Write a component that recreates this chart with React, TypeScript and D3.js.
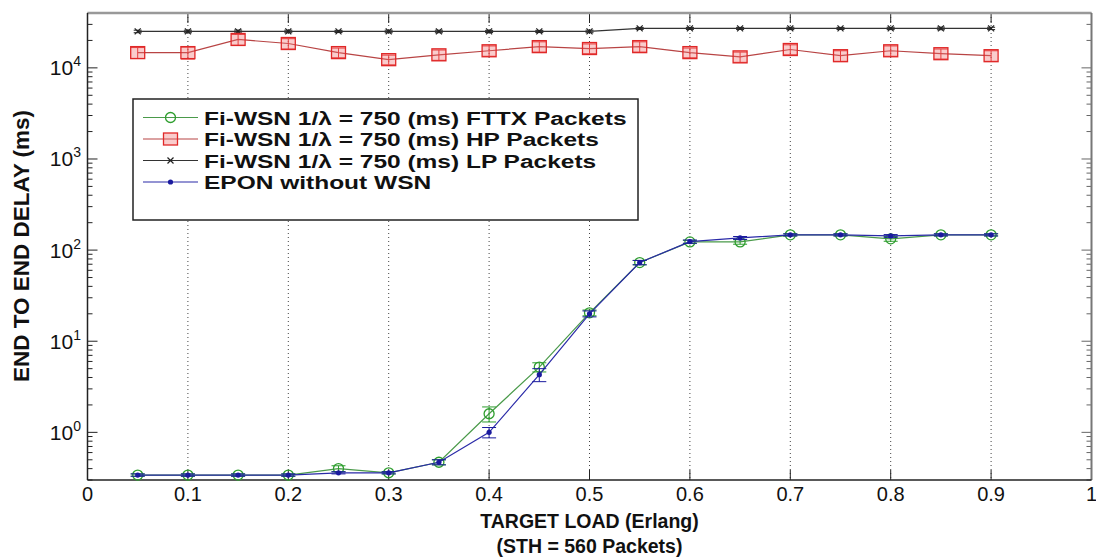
import React, { useEffect, useRef } from 'react';
import * as d3 from 'd3';

// target load (Erlang)
const loads = [0.05, 0.1, 0.15, 0.2, 0.25, 0.3, 0.35, 0.4, 0.45, 0.5, 0.55, 0.6, 0.65, 0.7, 0.75, 0.8, 0.85, 0.9];

// end to end delay (ms)
const fttxDelay = [0.34, 0.34, 0.34, 0.34, 0.4, 0.36, 0.47, 1.6, 5.2, 20.5, 73, 123, 123, 147, 147, 133, 147, 147];
const fttxErr = [0.01, 0.01, 0.01, 0.01, 0.03, 0.01, 0.03, 0.3, 0.6, 1.5, 4, 5, 7, 4, 4, 8, 4, 4];
const hpDelay = [14700, 14700, 20500, 18500, 14700, 12300, 13900, 15400, 17100, 16300, 17100, 14700, 13200, 15900, 13600, 15400, 14300, 13600];
const hpErr = [2000, 2200, 2800, 2400, 1800, 1500, 1800, 2000, 2200, 2000, 2200, 1800, 1700, 2000, 1800, 2000, 1800, 1800];
const lpDelay = [25100, 25100, 25100, 25100, 25100, 25100, 25100, 25100, 25100, 25100, 27100, 27100, 27100, 27100, 27100, 27100, 27100, 27100];
const lpErr = [800, 800, 900, 800, 700, 800, 800, 700, 700, 800, 700, 700, 700, 800, 700, 800, 900, 800];
const eponDelay = [0.34, 0.34, 0.34, 0.34, 0.36, 0.36, 0.47, 1.0, 4.3, 20, 73, 124, 136, 147, 147, 143, 147, 147];
const eponErr = [0.01, 0.01, 0.01, 0.01, 0.01, 0.01, 0.03, 0.13, 0.7, 1.5, 4, 5, 5, 4, 4, 5, 4, 4];

const legendLabels = [
  'Fi-WSN 1/\u03bb = 750 (ms) FTTX Packets',
  'Fi-WSN 1/\u03bb = 750 (ms) HP Packets',
  'Fi-WSN 1/\u03bb = 750 (ms) LP Packets',
  'EPON without WSN',
];

const xTicks = [0, 0.1, 0.2, 0.3, 0.4, 0.5, 0.6, 0.7, 0.8, 0.9, 1];
const yDecades = [0, 1, 2, 3, 4];

type Series = {
  values: number[];
  errs: number[];
  line: string;
  marker: 'circle' | 'square' | 'x' | 'dot';
  color: string;
};

const FONT = '"Liberation Sans", Arial, Helvetica, sans-serif';

const App: React.FC = () => {
  const ref = useRef<SVGSVGElement>(null);

  useEffect(() => {
    const width = 1096;
    const height = 558;
    const left = 87.5;
    const right = 1091.5;
    const top = 13;
    const bottom = 480;

    const svg = d3.select(ref.current);
    svg.selectAll('*').remove();

    const x = d3.scaleLinear().domain([0, 1]).range([left, right]);
    const y = d3.scaleLog().domain([0.3, 40000]).range([bottom, top]);

    svg.append('rect').attr('width', width).attr('height', height).attr('fill', '#fff');

    // vertical dotted grid
    svg
      .append('g')
      .selectAll('line')
      .data(xTicks.filter((d) => d > 0 && d < 1))
      .enter()
      .append('line')
      .attr('x1', (d) => x(d))
      .attr('x2', (d) => x(d))
      .attr('y1', top)
      .attr('y2', bottom)
      .attr('stroke', '#444')
      .attr('stroke-width', 1)
      .attr('stroke-dasharray', '1,3');

    // y ticks (major + minor), left and right
    const allY = y.ticks();
    const yt = svg.append('g');
    allY.forEach((t) => {
      const major = Math.abs(Math.log10(t) - Math.round(Math.log10(t))) < 1e-9;
      const len = major ? 10 : 5;
      yt.append('line')
        .attr('x1', left).attr('x2', left + len)
        .attr('y1', y(t)).attr('y2', y(t))
        .attr('stroke', '#222').attr('stroke-width', 1);
      yt.append('line')
        .attr('x1', right).attr('x2', right - len)
        .attr('y1', y(t)).attr('y2', y(t))
        .attr('stroke', '#666').attr('stroke-width', 1);
    });

    // x ticks bottom and top
    const xt = svg.append('g');
    xTicks.forEach((t) => {
      xt.append('line')
        .attr('x1', x(t)).attr('x2', x(t))
        .attr('y1', bottom).attr('y2', bottom - 10)
        .attr('stroke', '#222');
      xt.append('line')
        .attr('x1', x(t)).attr('x2', x(t))
        .attr('y1', top).attr('y2', top + 10)
        .attr('stroke', '#222');
    });

    // frame
    svg.append('line').attr('x1', left).attr('x2', right).attr('y1', top).attr('y2', top)
      .attr('stroke', '#999').attr('stroke-width', 2.5);
    svg.append('line').attr('x1', right).attr('x2', right).attr('y1', top).attr('y2', bottom)
      .attr('stroke', '#777').attr('stroke-width', 2);
    svg.append('line').attr('x1', left).attr('x2', left).attr('y1', top).attr('y2', bottom)
      .attr('stroke', '#222').attr('stroke-width', 1.5);
    svg.append('line').attr('x1', left).attr('x2', right).attr('y1', bottom).attr('y2', bottom)
      .attr('stroke', '#222').attr('stroke-width', 1.5);

    // tick labels
    svg
      .append('g')
      .selectAll('text')
      .data(xTicks)
      .enter()
      .append('text')
      .attr('x', (d) => x(d))
      .attr('y', 501)
      .attr('text-anchor', 'middle')
      .attr('font-family', FONT)
      .attr('font-size', 20)
      .attr('fill', '#111')
      .text((d) => String(+d.toFixed(1)));

    const yl = svg.append('g');
    yDecades.forEach((k) => {
      const t = yl.append('text')
        .attr('x', 81)
        .attr('y', y(Math.pow(10, k)) + 7.5)
        .attr('text-anchor', 'end')
        .attr('font-family', FONT)
        .attr('fill', '#111');
      t.append('tspan').attr('font-size', 21).text('10');
      t.append('tspan').attr('font-size', 14).attr('dy', -9).text(String(k));
    });

    // axis titles
    svg.append('text')
      .attr('transform', `translate(29, 246) rotate(-90)`)
      .attr('text-anchor', 'middle')
      .attr('font-family', FONT)
      .attr('font-weight', 'bold')
      .attr('font-size', 22.5)
      .attr('fill', '#111')
      .text('END TO END DELAY (ms)');
    svg.append('text')
      .attr('x', (left + right) / 2)
      .attr('y', 528)
      .attr('text-anchor', 'middle')
      .attr('font-family', FONT)
      .attr('font-weight', 'bold')
      .attr('font-size', 19.5)
      .attr('fill', '#111')
      .text('TARGET LOAD (Erlang)');
    svg.append('text')
      .attr('x', (left + right) / 2)
      .attr('y', 553)
      .attr('text-anchor', 'middle')
      .attr('font-family', FONT)
      .attr('font-weight', 'bold')
      .attr('font-size', 19.5)
      .attr('fill', '#111')
      .text('(STH = 560 Packets)');

    const series: Series[] = [
      { values: lpDelay, errs: lpErr, line: '#333', marker: 'x', color: '#222' },
      { values: hpDelay, errs: hpErr, line: '#b84444', marker: 'square', color: '#e02828' },
      { values: fttxDelay, errs: fttxErr, line: '#4a9a4a', marker: 'circle', color: '#2e9e2e' },
      { values: eponDelay, errs: eponErr, line: '#2a2aa8', marker: 'dot', color: '#1a1a9e' },
    ];

    const drawMarker = (g: d3.Selection<SVGGElement, unknown, null, undefined>, s: Series, cx: number, cy: number) => {
      if (s.marker === 'circle') {
        g.append('circle').attr('cx', cx).attr('cy', cy).attr('r', 5)
          .attr('fill', 'none').attr('stroke', s.color).attr('stroke-width', 1.3);
      } else if (s.marker === 'square') {
        g.append('rect').attr('x', cx - 7).attr('y', cy - 6).attr('width', 14).attr('height', 12)
          .attr('fill', 'rgba(240,110,110,0.35)').attr('stroke', s.color).attr('stroke-width', 1.3);
      } else if (s.marker === 'x') {
        g.append('path')
          .attr('d', `M${cx - 3},${cy - 3}L${cx + 3},${cy + 3}M${cx - 3},${cy + 3}L${cx + 3},${cy - 3}`)
          .attr('stroke', s.color).attr('stroke-width', 1.2);
      } else {
        g.append('circle').attr('cx', cx).attr('cy', cy).attr('r', 2.6).attr('fill', s.color);
      }
    };

    const line = d3.line<number>()
      .x((_, i) => x(loads[i]))
      .y((d) => y(d));

    series.forEach((s) => {
      const g = svg.append('g');
      g.append('path')
        .attr('d', line(s.values))
        .attr('fill', 'none')
        .attr('stroke', s.line)
        .attr('stroke-width', 1.2);
      const cap = s.marker === 'x' ? 4 : 7;
      s.values.forEach((v, i) => {
        const cx = x(loads[i]);
        const y1 = y(v + s.errs[i]);
        const y2 = y(Math.max(v - s.errs[i], 0.01));
        g.append('path')
          .attr('d', `M${cx},${y1}L${cx},${y2}M${cx - cap},${y1}L${cx + cap},${y1}M${cx - cap},${y2}L${cx + cap},${y2}`)
          .attr('stroke', s.color)
          .attr('stroke-width', 1)
          .attr('fill', 'none');
        drawMarker(g, s, cx, y(v));
      });
    });

    // legend
    const lg = svg.append('g');
    lg.append('rect')
      .attr('x', 133).attr('y', 99).attr('width', 505).attr('height', 121)
      .attr('fill', '#fff').attr('stroke', '#222').attr('stroke-width', 1.5);
    const legendOrder = [series[2], series[1], series[0], series[3]];
    legendLabels.forEach((label, i) => {
      const ry = 117.5 + i * 21.5;
      lg.append('line').attr('x1', 143).attr('x2', 198).attr('y1', ry).attr('y2', ry)
        .attr('stroke', legendOrder[i].line).attr('stroke-width', 1.2);
      drawMarker(lg as any, legendOrder[i], 170.5, ry);
      lg.append('text')
        .attr('transform', `translate(204, ${ry + 7}) scale(1.29, 1)`)
        .attr('font-family', FONT)
        .attr('font-weight', 'bold')
        .attr('font-size', 19)
        .attr('fill', '#111')
        .text(label);
    });
  }, []);

  return (
    <svg
      ref={ref}
      width={1096}
      height={558}
      style={{ position: 'absolute', left: 0, top: 0, display: 'block' }}
    ></svg>
  );
};

export default App;
